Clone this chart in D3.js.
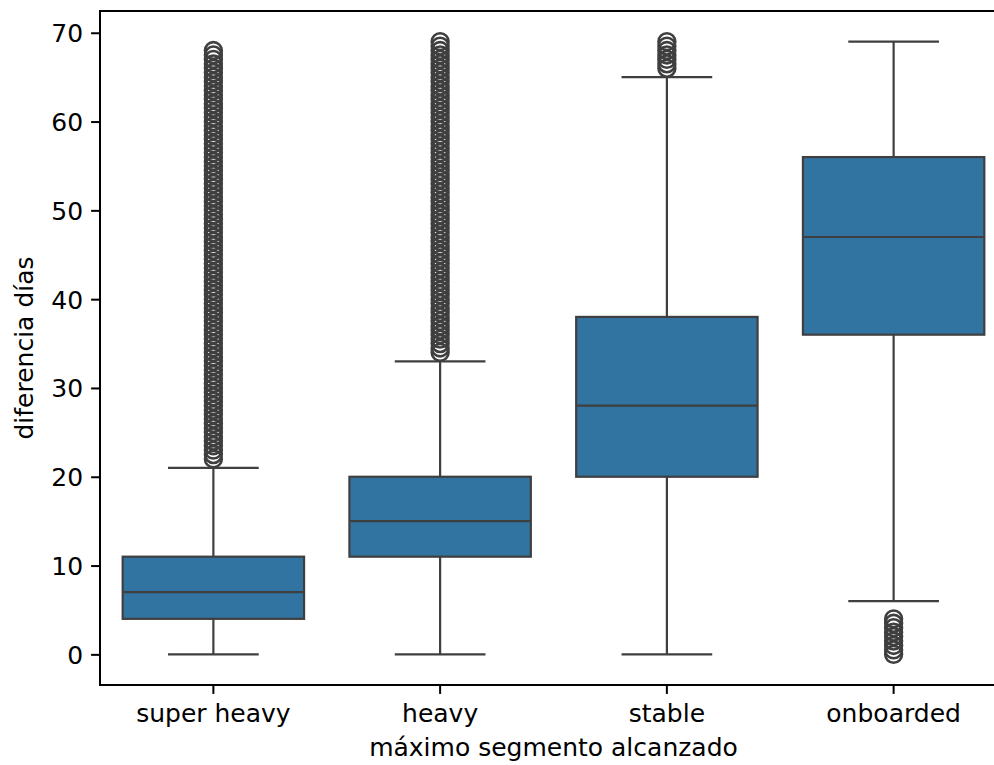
<!DOCTYPE html>
<html>
<head>
<meta charset="utf-8">
<script src="https://cdn.jsdelivr.net/npm/d3@7"></script>
<style>
  html, body { margin: 0; padding: 0; background: #fff; overflow: hidden; }
  text { font-family: "DejaVu Sans", sans-serif; fill: #000; }
</style>
</head>
<body>
<div id="chart"></div>
<script>
// box statistics per segment
const categories = ["super heavy", "heavy", "stable", "onboarded"];
const q1 = [4, 11, 20, 36];
const medians = [7, 15, 28, 47];
const q3 = [11, 20, 38, 56];
const whiskerLow = [0, 0, 0, 6];
const whiskerHigh = [21, 33, 65, 69];

// outliers per segment (the flier columns are drawn very densely)
const outliersSuperHeavy = [22, 22.5, 23, 23.5, 24, 24.5, 25, 25.5, 26, 26.5, 27, 27.5, 28, 28.5,
    29, 29.5, 30, 30.5, 31, 31.5, 32, 32.5, 33, 33.5, 34, 34.5, 35, 35.5, 36, 36.5, 37, 37.5,
    38, 38.5, 39, 39.5, 40, 40.5, 41, 41.5, 42, 42.5, 43, 43.5, 44, 44.5, 45, 45.5, 46, 46.5,
    47, 47.5, 48, 48.5, 49, 49.5, 50, 50.5, 51, 51.5, 52, 52.5, 53, 53.5, 54, 54.5, 55, 55.5,
    56, 56.5, 57, 57.5, 58, 58.5, 59, 59.5, 60, 60.5, 61, 61.5, 62, 62.5, 63, 63.5, 64, 64.5,
    65, 65.5, 66, 66.5, 67, 67.5, 68];
const outliersHeavy = [34, 34.5, 35, 35.5, 36, 36.5, 37, 37.5, 38, 38.5, 39, 39.5, 40, 40.5,
    41, 41.5, 42, 42.5, 43, 43.5, 44, 44.5, 45, 45.5, 46, 46.5, 47, 47.5, 48, 48.5, 49, 49.5,
    50, 50.5, 51, 51.5, 52, 52.5, 53, 53.5, 54, 54.5, 55, 55.5, 56, 56.5, 57, 57.5, 58, 58.5,
    59, 59.5, 60, 60.5, 61, 61.5, 62, 62.5, 63, 63.5, 64, 64.5, 65, 65.5, 66, 66.5, 67, 67.5,
    68, 68.5, 69];
const outliersStable = [66, 66.5, 67, 67.5, 68, 68.5, 69];
const outliersOnboarded = [0, 0.5, 1, 1.5, 2, 2.5, 3, 3.5, 4];
const outliers = [outliersSuperHeavy, outliersHeavy, outliersStable, outliersOnboarded];

const yTicks = [0, 10, 20, 30, 40, 50, 60, 70];

const boxColor = "#3274a1";
const lineColor = "#3f3f3f";

const totalWidth = 994, totalHeight = 765;
// plot area (right edge falls past the picture, as in the source)
const margin = { top: 11, left: 100 };
const plotWidth = 907;
const plotHeight = 674;

const svg = d3.select("#chart").append("svg")
    .attr("width", totalWidth)
    .attr("height", totalHeight);

const g = svg.append("g")
    .attr("transform", "translate(" + margin.left + "," + margin.top + ")");

// scales
const x = d3.scaleBand()
    .domain(categories)
    .range([0, plotWidth])
    .paddingInner(0)
    .paddingOuter(0);
const y = d3.scaleLinear()
    .domain([-3.45, 72.45])
    .range([plotHeight, 0]);

const boxW = x.bandwidth() * 0.8;
const capW = boxW * 0.5;

const rows = categories.map((c, i) => ({
    cat: c, q1: q1[i], med: medians[i], q3: q3[i],
    lo: whiskerLow[i], hi: whiskerHigh[i], out: outliers[i]
}));

const boxes = g.selectAll(".box")
    .data(rows)
    .enter().append("g")
    .attr("class", "box")
    .attr("transform", (d) => "translate(" + (x(d.cat) + x.bandwidth() / 2) + ",0)");

// whiskers
boxes.append("line")
    .attr("x1", 0).attr("x2", 0)
    .attr("y1", (d) => y(d.q3)).attr("y2", (d) => y(d.hi))
    .attr("stroke", lineColor).attr("stroke-width", 2.2);
boxes.append("line")
    .attr("x1", 0).attr("x2", 0)
    .attr("y1", (d) => y(d.q1)).attr("y2", (d) => y(d.lo))
    .attr("stroke", lineColor).attr("stroke-width", 2.2);

// caps
boxes.append("line")
    .attr("x1", -capW / 2).attr("x2", capW / 2)
    .attr("y1", (d) => y(d.hi)).attr("y2", (d) => y(d.hi))
    .attr("stroke", lineColor).attr("stroke-width", 2.2);
boxes.append("line")
    .attr("x1", -capW / 2).attr("x2", capW / 2)
    .attr("y1", (d) => y(d.lo)).attr("y2", (d) => y(d.lo))
    .attr("stroke", lineColor).attr("stroke-width", 2.2);

// box
boxes.append("rect")
    .attr("x", -boxW / 2)
    .attr("width", boxW)
    .attr("y", (d) => y(d.q3))
    .attr("height", (d) => y(d.q1) - y(d.q3))
    .attr("fill", boxColor)
    .attr("stroke", lineColor)
    .attr("stroke-width", 2.2);

// median
boxes.append("line")
    .attr("x1", -boxW / 2).attr("x2", boxW / 2)
    .attr("y1", (d) => y(d.med)).attr("y2", (d) => y(d.med))
    .attr("stroke", lineColor).attr("stroke-width", 2.2);

// fliers
boxes.selectAll(".flier")
    .data((d) => d.out)
    .enter().append("circle")
    .attr("class", "flier")
    .attr("cx", 0)
    .attr("cy", (v) => y(v))
    .attr("r", 8.4)
    .attr("fill", "none")
    .attr("stroke", lineColor)
    .attr("stroke-width", 2.6);

// axes
const xAxis = g.append("g")
    .attr("transform", "translate(0," + plotHeight + ")")
    .call(d3.axisBottom(x).tickSizeOuter(0).tickSize(8.9).tickPadding(8));
const yAxis = g.append("g")
    .call(d3.axisLeft(y).tickValues(yTicks).tickSizeOuter(0).tickSize(8.9).tickPadding(8));

[xAxis, yAxis].forEach((a) => {
    a.select(".domain").remove();
    a.selectAll(".tick line").attr("stroke", "#000").attr("stroke-width", 2);
    a.selectAll(".tick text")
        .style("font-family", "DejaVu Sans")
        .style("font-size", "25px")
        .attr("fill", "#000");
});
xAxis.selectAll(".tick text").attr("dy", "0.82em");
yAxis.selectAll(".tick text").attr("dy", "0.36em");

// frame
g.append("rect")
    .attr("x", 0).attr("y", 0)
    .attr("width", plotWidth).attr("height", plotHeight)
    .attr("fill", "none")
    .attr("stroke", "#000")
    .attr("stroke-width", 2);

// axis labels
svg.append("text")
    .attr("x", margin.left + plotWidth / 2)
    .attr("y", 756)
    .attr("text-anchor", "middle")
    .style("font-size", "25px")
    .text("máximo segmento alcanzado");
svg.append("text")
    .attr("transform", "translate(33," + (margin.top + plotHeight / 2) + ") rotate(-90)")
    .attr("text-anchor", "middle")
    .style("font-size", "25px")
    .text("diferencia días");
</script>
</body>
</html>
